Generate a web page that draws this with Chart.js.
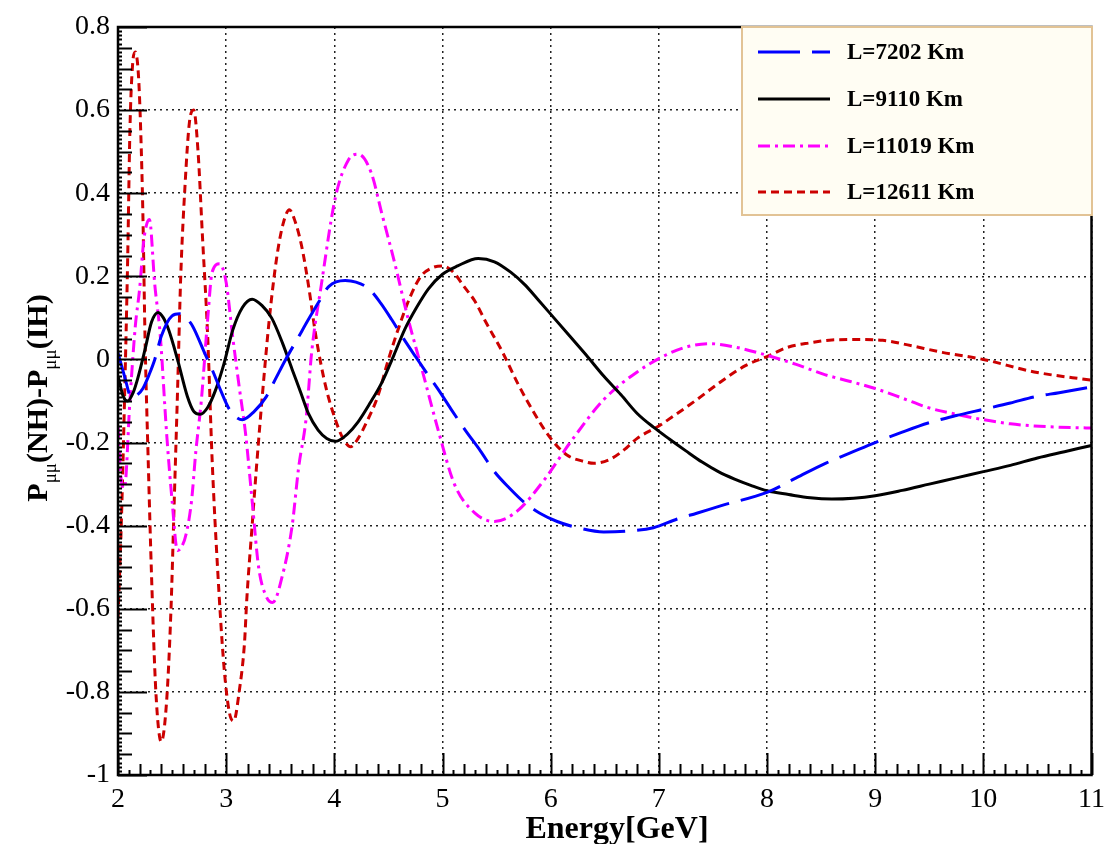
<!DOCTYPE html>
<html>
<head>
<meta charset="utf-8">
<script src="https://cdn.jsdelivr.net/npm/chart.js@4"></script>
<style>
  body { margin: 0; background: #fff; }
  canvas { display: block; }
</style>
</head>
<body>
<canvas id="myChart" width="1113" height="844"></canvas>
<script>
var labels = ['L=7202 Km', 'L=9110 Km', 'L=11019 Km', 'L=12611 Km'];

// L=7202 Km
var e7202 = [2.0, 2.06, 2.125, 2.18, 2.23, 2.29, 2.34, 2.40, 2.50, 2.57, 2.63, 2.69, 2.80, 2.87, 2.95, 3.03, 3.15, 3.26, 3.37, 3.46, 3.55, 3.66, 3.76, 3.86, 3.95, 4.10, 4.20, 4.32, 4.43, 4.53, 4.64, 4.75, 4.86, 4.96, 5.08, 5.21, 5.35, 5.48, 5.62, 5.76, 5.90, 6.06, 6.25, 6.49, 6.70, 6.95, 7.17, 7.35, 7.60, 8.0, 8.27, 8.54, 8.77, 9.0, 9.25, 9.49, 9.75, 10.0, 10.25, 10.47, 10.7, 10.96, 11.0];
var p7202 = [0.016, -0.04, -0.092, -0.085, -0.07, -0.035, 0.0, 0.056, 0.105, 0.11, 0.10, 0.08, 0.016, -0.024, -0.075, -0.12, -0.145, -0.125, -0.09, -0.045, 0.0, 0.05, 0.096, 0.14, 0.176, 0.19, 0.186, 0.17, 0.135, 0.096, 0.05, 0.007, -0.035, -0.072, -0.12, -0.17, -0.22, -0.27, -0.31, -0.345, -0.37, -0.39, -0.405, -0.415, -0.413, -0.405, -0.384, -0.37, -0.35, -0.32, -0.285, -0.25, -0.225, -0.20, -0.175, -0.153, -0.135, -0.12, -0.105, -0.09, -0.08, -0.068, -0.066];

// L=9110 Km
var e9110 = [2.0, 2.05, 2.09, 2.14, 2.18, 2.25, 2.31, 2.37, 2.42, 2.47, 2.55, 2.64, 2.70, 2.76, 2.83, 2.90, 2.98, 3.06, 3.15, 3.24, 3.33, 3.42, 3.52, 3.61, 3.69, 3.76, 3.85, 3.93, 4.01, 4.04, 4.12, 4.22, 4.33, 4.44, 4.55, 4.65, 4.76, 4.87, 5.0, 5.14, 5.33, 5.48, 5.63, 5.76, 5.88, 6.03, 6.18, 6.33, 6.49, 6.65, 6.80, 6.95, 7.10, 7.25, 7.40, 7.55, 7.70, 7.85, 8.0, 8.2, 8.4, 8.6, 8.8, 9.0, 9.25, 9.5, 9.75, 10.0, 10.25, 10.5, 10.75, 11.0];
var p9110 = [-0.04, -0.09, -0.10, -0.08, -0.048, 0.024, 0.09, 0.113, 0.10, 0.07, 0.0, -0.088, -0.125, -0.132, -0.115, -0.075, -0.01, 0.07, 0.125, 0.145, 0.13, 0.10, 0.04, -0.024, -0.08, -0.13, -0.17, -0.19, -0.197, -0.195, -0.18, -0.15, -0.105, -0.055, 0.01, 0.072, 0.125, 0.17, 0.205, 0.225, 0.243, 0.235, 0.21, 0.18, 0.145, 0.10, 0.055, 0.01, -0.04, -0.085, -0.13, -0.163, -0.192, -0.22, -0.247, -0.27, -0.288, -0.303, -0.316, -0.325, -0.333, -0.336, -0.334, -0.328, -0.315, -0.30, -0.285, -0.27, -0.255, -0.237, -0.222, -0.207];

// L=11019 Km
var e11019 = [2.0, 2.03, 2.06, 2.11, 2.16, 2.20, 2.24, 2.29, 2.34, 2.39, 2.45, 2.50, 2.55, 2.59, 2.63, 2.68, 2.72, 2.77, 2.83, 2.87, 2.94, 3.0, 3.06, 3.12, 3.18, 3.24, 3.30, 3.37, 3.43, 3.52, 3.61, 3.67, 3.74, 3.79, 3.88, 4.01, 4.13, 4.22, 4.34, 4.44, 4.56, 4.68, 4.81, 4.96, 5.11, 5.30, 5.48, 5.69, 5.94, 6.18, 6.49, 6.80, 7.10, 7.30, 7.47, 7.70, 8.0, 8.27, 8.54, 8.77, 9.0, 9.25, 9.49, 9.75, 10.0, 10.25, 10.47, 10.7, 11.0];
var p11019 = [-0.16, -0.29, -0.31, -0.10, 0.08, 0.17, 0.29, 0.337, 0.18, 0.06, -0.18, -0.34, -0.46, -0.45, -0.42, -0.34, -0.22, -0.10, 0.10, 0.21, 0.23, 0.185, 0.055, -0.065, -0.18, -0.34, -0.50, -0.57, -0.585, -0.52, -0.40, -0.26, -0.14, 0.016, 0.18, 0.39, 0.48, 0.494, 0.45, 0.35, 0.23, 0.10, -0.024, -0.17, -0.30, -0.37, -0.39, -0.365, -0.29, -0.20, -0.097, -0.03, 0.015, 0.033, 0.038, 0.03, 0.01, -0.012, -0.037, -0.053, -0.07, -0.093, -0.116, -0.132, -0.145, -0.155, -0.16, -0.163, -0.165];

// L=12611 Km
var e12611 = [2.0, 2.03, 2.06, 2.09, 2.11, 2.135, 2.16, 2.19, 2.21, 2.23, 2.25, 2.28, 2.31, 2.35, 2.40, 2.45, 2.49, 2.52, 2.55, 2.58, 2.62, 2.66, 2.70, 2.74, 2.78, 2.83, 2.87, 2.92, 2.98, 3.03, 3.07, 3.12, 3.17, 3.19, 3.24, 3.28, 3.34, 3.40, 3.47, 3.53, 3.585, 3.64, 3.70, 3.76, 3.83, 3.92, 4.01, 4.08, 4.15, 4.22, 4.30, 4.40, 4.50, 4.60, 4.70, 4.80, 4.90, 5.0, 5.10, 5.20, 5.30, 5.40, 5.55, 5.70, 5.85, 6.0, 6.15, 6.30, 6.40, 6.55, 6.70, 6.80, 7.0, 7.17, 7.35, 7.56, 7.80, 8.0, 8.2, 8.4, 8.6, 8.82, 9.07, 9.3, 9.62, 10.0, 10.47, 11.0];
var p12611 = [-0.62, -0.40, -0.10, 0.25, 0.55, 0.71, 0.74, 0.68, 0.55, 0.35, 0.05, -0.25, -0.52, -0.80, -0.92, -0.82, -0.60, -0.34, -0.08, 0.20, 0.42, 0.57, 0.60, 0.50, 0.30, 0.05, -0.24, -0.50, -0.74, -0.85, -0.87, -0.80, -0.68, -0.58, -0.40, -0.26, -0.07, 0.10, 0.25, 0.33, 0.36, 0.33, 0.27, 0.18, 0.055, -0.065, -0.145, -0.19, -0.21, -0.19, -0.15, -0.09, 0.0, 0.08, 0.15, 0.20, 0.22, 0.225, 0.21, 0.175, 0.14, 0.09, 0.02, -0.06, -0.13, -0.19, -0.23, -0.245, -0.25, -0.24, -0.213, -0.19, -0.16, -0.13, -0.097, -0.056, -0.015, 0.007, 0.03, 0.04, 0.047, 0.048, 0.046, 0.035, 0.017, 0.0, -0.03, -0.05];

var colors = ['#0000ff', '#000000', '#ff00ff', '#cc0000'];
var dashes = [[42, 12], [], [12, 5, 3, 5], [8, 5]];

function pts(xs, ys) {
    return xs.map(function(x, i) { return {x: x, y: ys[i]}; });
}

var series = [pts(e7202, p7202), pts(e9110, p9110), pts(e11019, p11019), pts(e12611, p12611)];

var datasets = series.map(function(d, i) {
    return {
        label: labels[i],
        data: d,
        borderColor: colors[i],
        borderWidth: 3,
        borderDash: dashes[i],
        pointRadius: 0,
        fill: false,
        cubicInterpolationMode: 'monotone'
    };
});

var serif = '"Liberation Serif", "DejaVu Serif", serif';

// frame, inward ticks, axis titles and the legend box
var frame = {
    id: 'frame',
    afterDraw: function(chart) {
        var ctx = chart.ctx;
        var a = chart.chartArea;
        var xs = chart.scales.x, ys = chart.scales.y;
        ctx.save();
        ctx.strokeStyle = '#000';
        ctx.lineWidth = 2;
        var i, v, len, px, py;
        // x ticks
        for (i = 0; i <= 90; i++) {
            v = 2 + i * 0.1;
            len = (i % 10 === 0) ? 22 : (i % 2 === 0 ? 11 : 5);
            px = Math.round(xs.getPixelForValue(v)) + 0.5;
            ctx.beginPath();
            ctx.moveTo(px, a.bottom);
            ctx.lineTo(px, a.bottom - len);
            ctx.stroke();
        }
        // y ticks
        for (i = 0; i <= 180; i++) {
            v = -1 + i * 0.01;
            len = (i % 20 === 0) ? 29 : (i % 5 === 0 ? 14 : 4);
            py = Math.round(ys.getPixelForValue(v)) + 0.5;
            ctx.beginPath();
            ctx.moveTo(a.left, py);
            ctx.lineTo(a.left + len, py);
            ctx.stroke();
        }
        ctx.lineWidth = 2.5;
        ctx.strokeRect(a.left, a.top, a.right - a.left, a.bottom - a.top);

        // x title
        ctx.fillStyle = '#000';
        ctx.font = 'bold 32px ' + serif;
        ctx.textAlign = 'center';
        ctx.textBaseline = 'alphabetic';
        ctx.fillText('Energy[GeV]', 617, 838);

        // y title with subscripts
        var parts = [
            {t: 'P', f: 'bold 30px ' + serif, dy: 0},
            {t: 'μμ', f: '19px ' + serif, dy: 9},
            {t: '(NH)-', f: 'bold 30px ' + serif, dy: 0},
            {t: 'P', f: 'bold 30px ' + serif, dy: 0},
            {t: 'μμ', f: '19px ' + serif, dy: 9},
            {t: '(IH)', f: 'bold 30px ' + serif, dy: 0}
        ];
        var total = 0;
        parts.forEach(function(p) { ctx.font = p.f; p.w = ctx.measureText(p.t).width; total += p.w; });
        ctx.translate(47, 398);
        ctx.rotate(-Math.PI / 2);
        ctx.textAlign = 'left';
        var cx = -total / 2;
        parts.forEach(function(p) {
            ctx.font = p.f;
            ctx.fillText(p.t, cx, p.dy);
            cx += p.w;
        });
        ctx.setTransform(1, 0, 0, 1, 0, 0);

        // legend box
        var lx = 742, ly = 27, lw = 350, lh = 188;
        ctx.fillStyle = '#fffdf3';
        ctx.fillRect(lx, ly, lw, lh);
        ctx.strokeStyle = '#e2c395';
        ctx.lineWidth = 2;
        ctx.strokeRect(lx, ly, lw, lh);
        var rows = [52, 99, 146, 192];
        chart.data.datasets.forEach(function(ds, k) {
            ctx.strokeStyle = ds.borderColor;
            ctx.lineWidth = 3;
            ctx.setLineDash(ds.borderDash);
            ctx.beginPath();
            ctx.moveTo(758, rows[k]);
            ctx.lineTo(830, rows[k]);
            ctx.stroke();
            ctx.setLineDash([]);
            ctx.fillStyle = '#000';
            ctx.font = 'bold 23px ' + serif;
            ctx.textBaseline = 'middle';
            ctx.fillText(ds.label, 847, rows[k] + 1);
        });
        ctx.restore();
    }
};

var ctx = document.getElementById('myChart').getContext('2d');
var chart = new Chart(ctx, {
    type: 'line',
    data: { datasets: datasets },
    options: {
        responsive: false,
        animation: false,
        layout: { padding: { top: 27, right: 17, left: 0, bottom: 0 } },
        plugins: {
            legend: { display: false },
            tooltip: { enabled: false }
        },
        scales: {
            x: {
                type: 'linear',
                min: 2,
                max: 11,
                afterFit: function(s) { s.height = 69; },
                border: { display: false, dash: [2, 4] },
                grid: { color: '#222', lineWidth: 1.5, drawTicks: false },
                ticks: {
                    stepSize: 1,
                    padding: 8,
                    color: '#000',
                    font: { family: serif, size: 28 }
                }
            },
            y: {
                min: -1,
                max: 0.8,
                afterFit: function(s) { s.width = 118; },
                border: { display: false, dash: [2, 4] },
                grid: { color: '#222', lineWidth: 1.5, drawTicks: false },
                ticks: {
                    stepSize: 0.2,
                    padding: 8,
                    color: '#000',
                    font: { family: serif, size: 28 },
                    callback: function(v) { return String(+v.toFixed(1)); }
                }
            }
        }
    },
    plugins: [frame]
});
</script>
</body>
</html>
